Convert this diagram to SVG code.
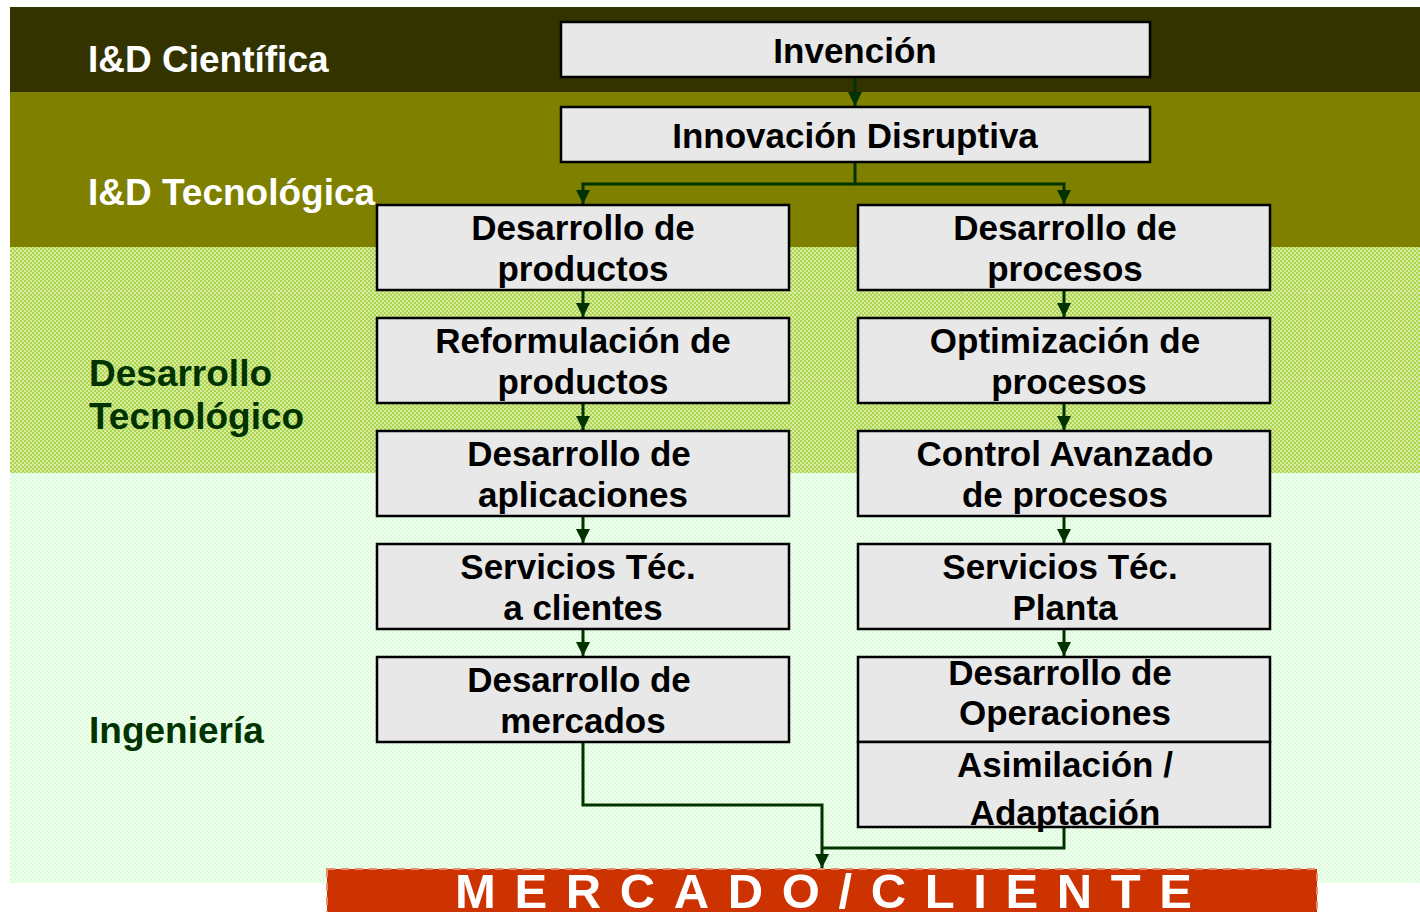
<svg xmlns="http://www.w3.org/2000/svg" width="1420" height="912" viewBox="0 0 1420 912">
<defs>
<style>
.lbl{font-family:"Liberation Sans",Arial,sans-serif;font-weight:bold;font-size:37px}
.w{fill:#ffffff}
.g{fill:#003300}
.box rect{fill:#e8e8e8;stroke:#000000;stroke-width:2.5}
.box text{font-family:"Liberation Sans",Arial,sans-serif;font-weight:bold;font-size:35px;fill:#000000;text-anchor:middle}
.con{fill:none;stroke:#003300;stroke-width:3}
</style>
<pattern id="pg" width="4" height="4" patternUnits="userSpaceOnUse">
<rect width="4" height="4" fill="#d4ec9c"/>
<rect width="2" height="2" fill="#acd450"/>
<rect x="2" y="2" width="2" height="2" fill="#acd450"/>
</pattern>
<pattern id="pm" width="4" height="4" patternUnits="userSpaceOnUse">
<rect width="4" height="4" fill="#f0fff0"/>
<rect width="2" height="2" fill="#dcfcdc"/>
<rect x="2" y="2" width="2" height="2" fill="#dcfcdc"/>
</pattern>
<pattern id="grid" x="19" y="34" width="86" height="86" patternUnits="userSpaceOnUse">
<path d="M0,0 V86 M0,0 H86" fill="none" stroke="#ffffff" stroke-opacity="0.55" stroke-width="1" stroke-dasharray="2 2"/>
</pattern>
<marker id="ahd" viewBox="0 0 14 14" refX="14" refY="7" markerWidth="14" markerHeight="14" markerUnits="userSpaceOnUse" orient="auto">
<path d="M0,0 L14,7 L0,14 Z" fill="#003300"/>
</marker>
</defs>

<g id="bands">
<rect x="10" y="7" width="1410" height="85" fill="#333300"/>
<rect x="10" y="92" width="1410" height="155" fill="#808000"/>
<rect x="10" y="247" width="1410" height="226" fill="url(#pg)"/>
<rect x="10" y="247" width="1410" height="226" fill="url(#grid)"/>
<rect x="10" y="473" width="1410" height="410" fill="url(#pm)"/>
<text class="lbl w" x="88" y="72">I&amp;D Científica</text>
<text class="lbl w" x="88" y="205">I&amp;D Tecnológica</text>
<text class="lbl g" x="89" y="386">Desarrollo</text>
<text class="lbl g" x="89" y="429">Tecnológico</text>
<text class="lbl g" x="89" y="743">Ingeniería</text>
</g>

<g id="connectors">
<path class="con" d="M855,77 V106" marker-end="url(#ahd)"/>
<path class="con" d="M855,162 V184 H583 V204" marker-end="url(#ahd)"/>
<path class="con" d="M855,184 H1064 V204" marker-end="url(#ahd)"/>
<path class="con" d="M583,290 V317" marker-end="url(#ahd)"/>
<path class="con" d="M583,403 V430" marker-end="url(#ahd)"/>
<path class="con" d="M583,516 V543" marker-end="url(#ahd)"/>
<path class="con" d="M583,629 V656" marker-end="url(#ahd)"/>
<path class="con" d="M1064,290 V317" marker-end="url(#ahd)"/>
<path class="con" d="M1064,403 V430" marker-end="url(#ahd)"/>
<path class="con" d="M1064,516 V543" marker-end="url(#ahd)"/>
<path class="con" d="M1064,629 V656" marker-end="url(#ahd)"/>
<path class="con" d="M583,742 V805 H822 V868" marker-end="url(#ahd)"/>
<path class="con" d="M1064,827 V848 H822"/>
</g>

<g id="n-invencion" class="box"><rect x="561" y="22" width="589" height="55"/><text x="855" y="63">Invención</text></g>
<g id="n-innovacion" class="box"><rect x="561" y="107" width="589" height="55"/><text x="855" y="148">Innovación Disruptiva</text></g>

<g id="n-des-productos" class="box"><rect x="377" y="205" width="412" height="85"/><text x="583" y="240">Desarrollo de</text><text x="583" y="281">productos</text></g>
<g id="n-reformulacion" class="box"><rect x="377" y="318" width="412" height="85"/><text x="583" y="353">Reformulación de</text><text x="583" y="394">productos</text></g>
<g id="n-aplicaciones" class="box"><rect x="377" y="431" width="412" height="85"/><text x="579" y="466">Desarrollo de</text><text x="583" y="507">aplicaciones</text></g>
<g id="n-serv-clientes" class="box"><rect x="377" y="544" width="412" height="85"/><text x="578" y="579">Servicios Téc.</text><text x="583" y="620">a clientes</text></g>
<g id="n-mercados" class="box"><rect x="377" y="657" width="412" height="85"/><text x="579" y="692">Desarrollo de</text><text x="583" y="733">mercados</text></g>

<g id="n-des-procesos" class="box"><rect x="858" y="205" width="412" height="85"/><text x="1065" y="240">Desarrollo de</text><text x="1065" y="281">procesos</text></g>
<g id="n-optimizacion" class="box"><rect x="858" y="318" width="412" height="85"/><text x="1065" y="353">Optimización de</text><text x="1069" y="394">procesos</text></g>
<g id="n-control" class="box"><rect x="858" y="431" width="412" height="85"/><text x="1065" y="466">Control Avanzado</text><text x="1065" y="507">de procesos</text></g>
<g id="n-serv-planta" class="box"><rect x="858" y="544" width="412" height="85"/><text x="1060" y="579">Servicios Téc.</text><text x="1065" y="620">Planta</text></g>
<g id="n-operaciones" class="box"><rect x="858" y="657" width="412" height="85"/><text x="1060" y="685">Desarrollo de</text><text x="1065" y="725">Operaciones</text></g>
<g id="n-asimilacion" class="box"><rect x="858" y="742" width="412" height="85"/><text x="1065" y="777">Asimilación /</text><text x="1065" y="825">Adaptación</text></g>

<g id="n-mercado-cliente">
<rect x="327" y="869" width="990" height="50" fill="#cc3300" stroke="#e8906c" stroke-width="2" stroke-dasharray="8 6"/>
<text x="455" y="908" textLength="737" lengthAdjust="spacing" style="font-family:'Liberation Sans',Arial,sans-serif;font-weight:bold;font-size:49px;fill:#ffffff">MERCADO/CLIENTE</text>
</g>
</svg>
